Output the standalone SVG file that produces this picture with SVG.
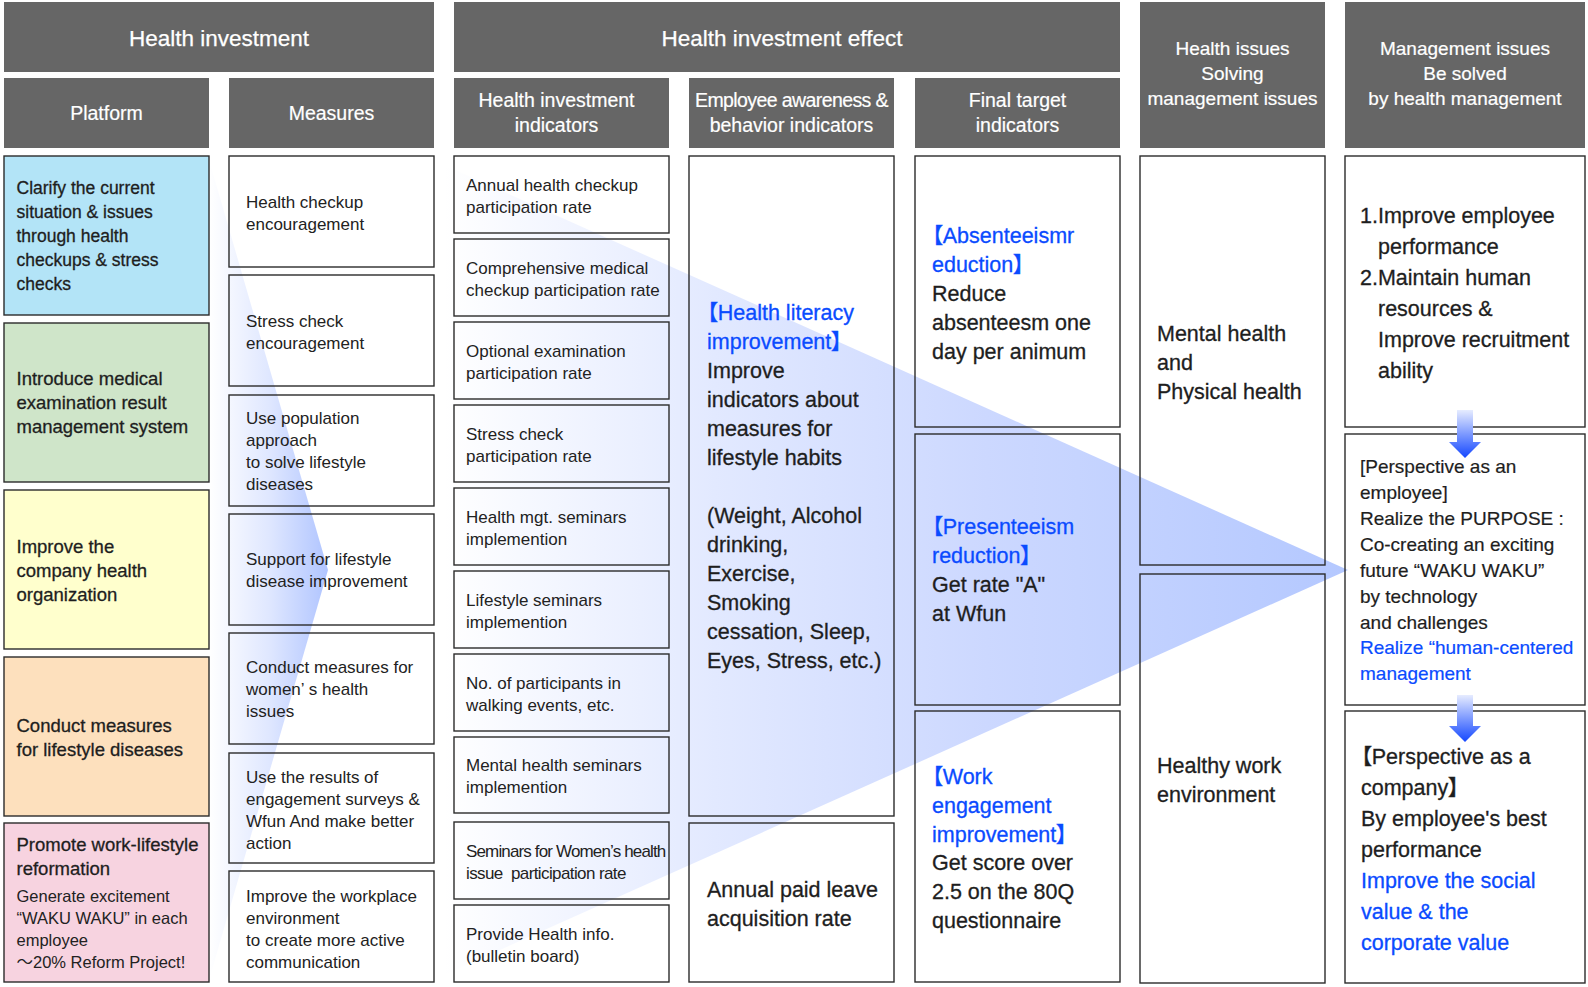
<svg xmlns="http://www.w3.org/2000/svg" width="1588" height="987" viewBox="0 0 1588 987">
<style>
text{font-family:"Liberation Sans",Arial,"Noto Sans CJK JP",sans-serif;font-feature-settings:"palt";}
.hd{fill:#666666;}
.box{fill:none;stroke:#2b2b2b;stroke-width:1.4;}
.h1{font-size:22.5px;fill:#fff;stroke:#fff;stroke-width:0.25;text-anchor:middle;}
.h2{font-size:19.5px;fill:#fff;stroke:#fff;stroke-width:0.2;text-anchor:middle;}
.h3{font-size:19px;fill:#fff;stroke:#fff;stroke-width:0.2;text-anchor:middle;}
.pf{font-size:18.5px;fill:#1e1e1e;stroke:#1e1e1e;stroke-width:0.3;}
.pfs{font-size:16.5px;fill:#222;}
.ms{font-size:17px;fill:#222;}
.big{font-size:21.5px;fill:#1e1e1e;stroke:#1e1e1e;stroke-width:0.3;}
.mid{font-size:19px;fill:#1e1e1e;stroke:#1e1e1e;stroke-width:0.2;}
.bl{fill:#0a4bff;stroke:#0a4bff;}
</style>
<defs>
<linearGradient id="chev" gradientUnits="userSpaceOnUse" x1="209" y1="0" x2="330" y2="0">
<stop offset="0" stop-color="#ffffff"/>
<stop offset="0.5" stop-color="#dfe7ff"/>
<stop offset="1" stop-color="#aec3ff"/>
</linearGradient>
<linearGradient id="tri" gradientUnits="userSpaceOnUse" x1="444" y1="0" x2="1348" y2="0">
<stop offset="0" stop-color="#ffffff"/>
<stop offset="0.3" stop-color="#e2e9ff"/>
<stop offset="0.6" stop-color="#ccd8ff"/>
<stop offset="1" stop-color="#b4c8ff"/>
</linearGradient>
<linearGradient id="arr" x1="0" y1="0" x2="0" y2="1">
<stop offset="0" stop-color="#e6ecff"/>
<stop offset="1" stop-color="#1447ff"/>
</linearGradient>
</defs>
<rect x="0" y="0" width="1588" height="987" fill="#ffffff"/>

<g id="flows">
<polygon points="209,160 328,570 209,980" fill="url(#chev)"/>
<polygon points="444,165 1348,570 444,975" fill="url(#tri)"/>
</g>

<g id="hdr-health-investment">
<rect class="hd" x="4" y="2" width="430" height="70"/>
<text class="h1" x="219" y="46">Health investment</text>
</g>
<g id="hdr-effect">
<rect class="hd" x="454" y="2" width="666" height="70"/>
<text class="h1" x="782" y="46">Health investment effect</text>
</g>
<g id="hdr-platform">
<rect class="hd" x="4" y="78" width="205" height="70"/>
<text class="h2" x="106.5" y="120">Platform</text>
</g>
<g id="hdr-measures">
<rect class="hd" x="229" y="78" width="205" height="70"/>
<text class="h2" x="331.5" y="120">Measures</text>
</g>
<g id="hdr-hi-indicators">
<rect class="hd" x="454" y="78" width="215" height="70"/>
<text class="h2"><tspan x="556.5" y="107">Health investment</tspan><tspan x="556.5" y="132">indicators</tspan></text>
</g>
<g id="hdr-employee">
<rect class="hd" x="689" y="78" width="205" height="70"/>
<text class="h2"><tspan x="791.5" y="107" letter-spacing="-0.6">Employee awareness &amp;</tspan><tspan x="791.5" y="132">behavior indicators</tspan></text>
</g>
<g id="hdr-final">
<rect class="hd" x="915" y="78" width="205" height="70"/>
<text class="h2"><tspan x="1017.5" y="107">Final target</tspan><tspan x="1017.5" y="132">indicators</tspan></text>
</g>
<g id="hdr-health-issues">
<rect class="hd" x="1140" y="2" width="185" height="146"/>
<text class="h3"><tspan x="1232.5" y="55">Health issues</tspan><tspan x="1232.5" y="80">Solving</tspan><tspan x="1232.5" y="105">management issues</tspan></text>
</g>
<g id="hdr-management">
<rect class="hd" x="1345" y="2" width="240" height="146"/>
<text class="h3"><tspan x="1465" y="55">Management issues</tspan><tspan x="1465" y="80">Be solved</tspan><tspan x="1465" y="105">by health management</tspan></text>
</g>

<g id="pf1">
<rect x="4" y="156" width="205" height="159" fill="#b3e4f7" stroke="#2b2b2b" stroke-width="1.4"/>
<text class="pf" style="font-size:17.5px"><tspan x="16.5" y="194">Clarify the current</tspan><tspan x="16.5" y="218">situation &amp; issues</tspan><tspan x="16.5" y="242">through health</tspan><tspan x="16.5" y="266">checkups &amp; stress</tspan><tspan x="16.5" y="290">checks</tspan></text>
</g>
<g id="pf2">
<rect x="4" y="323" width="205" height="159" fill="#cfe5c9" stroke="#2b2b2b" stroke-width="1.4"/>
<text class="pf"><tspan x="16.5" y="385">Introduce medical</tspan><tspan x="16.5" y="409">examination result</tspan><tspan x="16.5" y="433">management system</tspan></text>
</g>
<g id="pf3">
<rect x="4" y="490" width="205" height="159" fill="#ffffcd" stroke="#2b2b2b" stroke-width="1.4"/>
<text class="pf"><tspan x="16.5" y="553">Improve the</tspan><tspan x="16.5" y="577">company health</tspan><tspan x="16.5" y="601">organization</tspan></text>
</g>
<g id="pf4">
<rect x="4" y="657" width="205" height="159" fill="#fde0bd" stroke="#2b2b2b" stroke-width="1.4"/>
<text class="pf"><tspan x="16.5" y="732">Conduct measures</tspan><tspan x="16.5" y="756">for lifestyle diseases</tspan></text>
</g>
<g id="pf5">
<rect x="4" y="823" width="205" height="159" fill="#f7d3e0" stroke="#2b2b2b" stroke-width="1.4"/>
<text class="pf"><tspan x="16.5" y="851">Promote work-lifestyle</tspan><tspan x="16.5" y="875">reformation</tspan></text>
<text class="pfs"><tspan x="16.5" y="902">Generate excitement</tspan><tspan x="16.5" y="924">“WAKU WAKU” in each</tspan><tspan x="16.5" y="946">employee</tspan><tspan x="16.5" y="968">～20% Reform Project!</tspan></text>
</g>

<g id="ms1"><rect class="box" x="229" y="156" width="205" height="111"/>
<text class="ms"><tspan x="246" y="208">Health checkup</tspan><tspan x="246" y="230">encouragement</tspan></text></g>
<g id="ms2"><rect class="box" x="229" y="275" width="205" height="111"/>
<text class="ms"><tspan x="246" y="327">Stress check</tspan><tspan x="246" y="349">encouragement</tspan></text></g>
<g id="ms3"><rect class="box" x="229" y="395" width="205" height="111"/>
<text class="ms"><tspan x="246" y="424">Use population</tspan><tspan x="246" y="446">approach</tspan><tspan x="246" y="468">to solve lifestyle</tspan><tspan x="246" y="490">diseases</tspan></text></g>
<g id="ms4"><rect class="box" x="229" y="514" width="205" height="111"/>
<text class="ms"><tspan x="246" y="565">Support for lifestyle</tspan><tspan x="246" y="587">disease improvement</tspan></text></g>
<g id="ms5"><rect class="box" x="229" y="633" width="205" height="111"/>
<text class="ms"><tspan x="246" y="673">Conduct measures for</tspan><tspan x="246" y="695">women’ s health</tspan><tspan x="246" y="717">issues</tspan></text></g>
<g id="ms6"><rect class="box" x="229" y="753" width="205" height="110"/>
<text class="ms"><tspan x="246" y="783">Use the results of</tspan><tspan x="246" y="805">engagement surveys &amp;</tspan><tspan x="246" y="827">Wfun And make better</tspan><tspan x="246" y="849">action</tspan></text></g>
<g id="ms7"><rect class="box" x="229" y="871" width="205" height="111"/>
<text class="ms"><tspan x="246" y="902">Improve the workplace</tspan><tspan x="246" y="924">environment</tspan><tspan x="246" y="946">to create more active</tspan><tspan x="246" y="968">communication</tspan></text></g>

<g id="hi1"><rect class="box" x="454" y="156" width="215" height="77"/>
<text class="ms"><tspan x="466" y="191">Annual health checkup</tspan><tspan x="466" y="213">participation rate</tspan></text></g>
<g id="hi2"><rect class="box" x="454" y="239" width="215" height="77"/>
<text class="ms"><tspan x="466" y="274">Comprehensive medical</tspan><tspan x="466" y="296">checkup participation rate</tspan></text></g>
<g id="hi3"><rect class="box" x="454" y="322" width="215" height="77"/>
<text class="ms"><tspan x="466" y="357">Optional examination</tspan><tspan x="466" y="379">participation rate</tspan></text></g>
<g id="hi4"><rect class="box" x="454" y="405" width="215" height="77"/>
<text class="ms"><tspan x="466" y="440">Stress check</tspan><tspan x="466" y="462">participation rate</tspan></text></g>
<g id="hi5"><rect class="box" x="454" y="488" width="215" height="77"/>
<text class="ms"><tspan x="466" y="523">Health mgt. seminars</tspan><tspan x="466" y="545">implemention</tspan></text></g>
<g id="hi6"><rect class="box" x="454" y="571" width="215" height="77"/>
<text class="ms"><tspan x="466" y="606">Lifestyle seminars</tspan><tspan x="466" y="628">implemention</tspan></text></g>
<g id="hi7"><rect class="box" x="454" y="654" width="215" height="77"/>
<text class="ms"><tspan x="466" y="689">No. of participants in</tspan><tspan x="466" y="711">walking events, etc.</tspan></text></g>
<g id="hi8"><rect class="box" x="454" y="737" width="215" height="76"/>
<text class="ms"><tspan x="466" y="771">Mental health seminars</tspan><tspan x="466" y="793">implemention</tspan></text></g>
<g id="hi9"><rect class="box" x="454" y="822" width="215" height="77"/>
<text class="ms"><tspan x="466" y="857" letter-spacing="-0.85">Seminars for Women’s health</tspan><tspan x="466" y="879" letter-spacing="-0.6">issue&#160; participation rate</tspan></text></g>
<g id="hi10"><rect class="box" x="454" y="905" width="215" height="77"/>
<text class="ms"><tspan x="466" y="940">Provide Health info.</tspan><tspan x="466" y="962">(bulletin board)</tspan></text></g>

<g id="emp1"><rect class="box" x="689" y="156" width="205" height="660"/>
<text class="big"><tspan class="bl" x="707" y="320">【Health literacy</tspan><tspan class="bl" x="707" y="349">improvement】</tspan><tspan x="707" y="378">Improve</tspan><tspan x="707" y="407">indicators about</tspan><tspan x="707" y="436">measures for</tspan><tspan x="707" y="465">lifestyle habits</tspan><tspan x="707" y="523">(Weight, Alcohol</tspan><tspan x="707" y="552">drinking,</tspan><tspan x="707" y="581">Exercise,</tspan><tspan x="707" y="610">Smoking</tspan><tspan x="707" y="639">cessation, Sleep,</tspan><tspan x="707" y="668">Eyes, Stress, etc.)</tspan></text></g>
<g id="emp2"><rect class="box" x="689" y="823" width="205" height="159"/>
<text class="big"><tspan x="707" y="897">Annual paid leave</tspan><tspan x="707" y="926">acquisition rate</tspan></text></g>

<g id="ft1"><rect class="box" x="915" y="156" width="205" height="271"/>
<text class="big"><tspan class="bl" x="932" y="243">【Absenteeismr</tspan><tspan class="bl" x="932" y="272">eduction】</tspan><tspan x="932" y="301">Reduce</tspan><tspan x="932" y="330">absenteesm one</tspan><tspan x="932" y="359">day per animum</tspan></text></g>
<g id="ft2"><rect class="box" x="915" y="434" width="205" height="271"/>
<text class="big"><tspan class="bl" x="932" y="534">【Presenteeism</tspan><tspan class="bl" x="932" y="563">reduction】</tspan><tspan x="932" y="592">Get rate "A"</tspan><tspan x="932" y="621">at Wfun</tspan></text></g>
<g id="ft3"><rect class="box" x="915" y="711" width="205" height="271"/>
<text class="big"><tspan class="bl" x="932" y="784">【Work</tspan><tspan class="bl" x="932" y="813">engagement</tspan><tspan class="bl" x="932" y="842">improvement】</tspan><tspan x="932" y="870">Get score over</tspan><tspan x="932" y="899">2.5 on the 80Q</tspan><tspan x="932" y="928">questionnaire</tspan></text></g>

<g id="hs1"><rect class="box" x="1140" y="156" width="185" height="409"/>
<text class="big"><tspan x="1157" y="341">Mental health</tspan><tspan x="1157" y="370">and</tspan><tspan x="1157" y="399">Physical health</tspan></text></g>
<g id="hs2"><rect class="box" x="1140" y="574" width="185" height="409"/>
<text class="big"><tspan x="1157" y="773">Healthy work</tspan><tspan x="1157" y="802">environment</tspan></text></g>

<g id="mg1"><rect class="box" x="1345" y="156" width="240" height="271"/>
<text class="big"><tspan x="1360" y="223">1.Improve employee</tspan><tspan x="1378" y="254">performance</tspan><tspan x="1360" y="285">2.Maintain human</tspan><tspan x="1378" y="316">resources &amp;</tspan><tspan x="1378" y="347">Improve recruitment</tspan><tspan x="1378" y="378">ability</tspan></text></g>
<g id="mg2"><rect class="box" x="1345" y="434" width="240" height="271"/>
<text class="mid"><tspan x="1360" y="473">[Perspective as an</tspan><tspan x="1360" y="499">employee]</tspan><tspan x="1360" y="525">Realize the PURPOSE :</tspan><tspan x="1360" y="551">Co-creating an exciting</tspan><tspan x="1360" y="577">future “WAKU WAKU”</tspan><tspan x="1360" y="603">by technology</tspan><tspan x="1360" y="629">and challenges</tspan><tspan class="bl" x="1360" y="654">Realize “human-centered</tspan><tspan class="bl" x="1360" y="680">management</tspan></text></g>
<g id="mg3"><rect class="box" x="1345" y="711" width="240" height="272"/>
<text class="big"><tspan x="1361" y="764">【Perspective as a</tspan><tspan x="1361" y="795">company】</tspan><tspan x="1361" y="826">By employee's best</tspan><tspan x="1361" y="857">performance</tspan><tspan class="bl" x="1361" y="888">Improve the social</tspan><tspan class="bl" x="1361" y="919">value &amp; the</tspan><tspan class="bl" x="1361" y="950">corporate value</tspan></text></g>

<g id="connectors">
<path d="M1457,410 H1473 V442 H1481 L1465,458 L1449,442 H1457 Z" fill="url(#arr)"/>
<path d="M1457,695 H1473 V726 H1481 L1465,742 L1449,726 H1457 Z" fill="url(#arr)"/>
</g>
</svg>
